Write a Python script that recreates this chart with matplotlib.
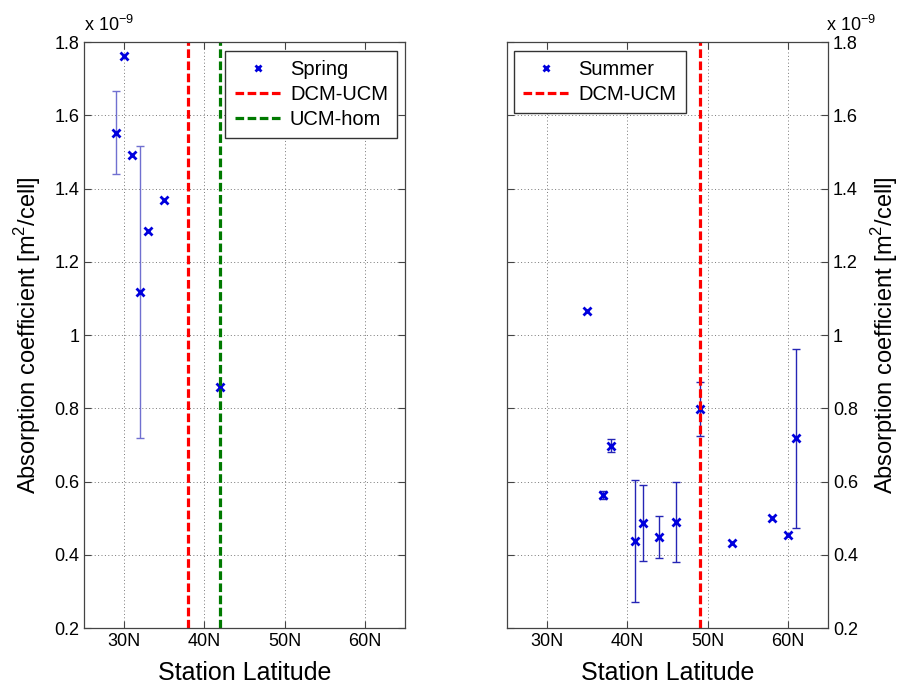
import numpy as np
import matplotlib
matplotlib.use("Agg")
import matplotlib.pyplot as plt

plt.rcParams['font.family'] = ['Liberation Sans', 'DejaVu Sans']

# absorption coefficient, units of 1e-9 m^2/cell
spring_lat = [29, 30, 31, 32, 33, 35, 42]
spring_abs = [1.552, 1.762, 1.491, 1.117, 1.284, 1.369, 0.859]
spring_err = [0.113, np.nan, np.nan, 0.398, np.nan, np.nan, np.nan]

summer_lat = [35, 37, 38, 41, 42, 44, 46, 49, 53, 58, 60, 61]
summer_abs = [1.066, 0.563, 0.698, 0.438, 0.487, 0.449, 0.490, 0.797, 0.433, 0.500, 0.453, 0.718]
summer_err = [np.nan, 0.010, 0.018, 0.167, 0.103, 0.058, 0.110, 0.074, np.nan, np.nan, np.nan, 0.245]

spring_dcm_ucm = 38
spring_ucm_hom = 42
summer_dcm_ucm = 49

xticks = [30, 40, 50, 60]
xticklabels = ['30N', '40N', '50N', '60N']
yticks = [0.2, 0.4, 0.6, 0.8, 1.0, 1.2, 1.4, 1.6, 1.8]
yticklabels = ['0.2', '0.4', '0.6', '0.8', '1', '1.2', '1.4', '1.6', '1.8']

fig = plt.figure(figsize=(9.06, 6.88), dpi=100)
ax1 = fig.add_axes([0.0927, 0.0872, 0.3543, 0.8517])
ax2 = fig.add_axes([0.5596, 0.0872, 0.3543, 0.8517])

dash = (2.7, 1.1)
ylab = r'Absorption coefficient [m$^{\mathregular{2}}$/cell]'
leg_kw = dict(borderaxespad=0, fontsize=14.5, fancybox=False, edgecolor='#333333',
              framealpha=1, handlelength=2.3, handletextpad=0.45,
              labelspacing=0.3, markerscale=0.75, borderpad=0.45)


def style(ax):
    ax.set_xlim(25, 65)
    ax.set_ylim(0.2, 1.8)
    ax.set_xticks(xticks)
    ax.set_xticklabels(xticklabels)
    ax.set_yticks(yticks)
    ax.set_yticklabels(yticklabels)
    ax.grid(True, linestyle=(0, (1, 2.5)), color='#777777', lw=0.7)
    ax.tick_params(direction='in', top=True, right=True, left=True,
                   labelsize=13, color='#444444', length=5, width=0.8)
    for s in ax.spines.values():
        s.set_color('#444444')
        s.set_linewidth(0.9)
    ax.set_xlabel('Station Latitude', fontsize=18, labelpad=8)


# spring
ax1.errorbar(spring_lat, spring_abs, yerr=spring_err, fmt='none',
             ecolor='#7070d0', elinewidth=1, capsize=3, capthick=1)
ax1.plot(spring_lat, spring_abs, 'x', color='#0000dd', ms=6, mew=2, label='Spring')
ax1.axvline(spring_dcm_ucm, color='#ff0000', lw=2.3, dashes=dash, label='DCM-UCM')
ax1.axvline(spring_ucm_hom, color='#007a00', lw=2.3, dashes=dash, label='UCM-hom')
style(ax1)
ax1.set_ylabel(ylab, fontsize=17, labelpad=8)
ax1.text(0, 1.012, r'x 10$^{\mathregular{-9}}$', transform=ax1.transAxes,
         fontsize=13, ha='left', va='bottom')
ax1.legend(loc='upper right', bbox_to_anchor=(0.975, 0.985), **leg_kw)

# summer
ax2.errorbar(summer_lat, summer_abs, yerr=summer_err, fmt='none',
             ecolor='#2525b5', elinewidth=1, capsize=3, capthick=1)
ax2.plot(summer_lat, summer_abs, 'x', color='#0000dd', ms=6, mew=2, label='Summer')
ax2.axvline(summer_dcm_ucm, color='#ff0000', lw=2.3, dashes=dash, label='DCM-UCM')
style(ax2)
ax2.yaxis.tick_right()
ax2.yaxis.set_label_position('right')
ax2.tick_params(axis='y', left=True, right=True, labelleft=False, labelright=True)
ax2.set_ylabel(ylab, fontsize=17, labelpad=8)
ax2.text(0.995, 1.012, r'x 10$^{\mathregular{-9}}$', transform=ax2.transAxes,
         fontsize=13, ha='left', va='bottom')
ax2.legend(loc='upper left', bbox_to_anchor=(0.022, 0.985), **leg_kw)

fig.savefig('out.png', dpi=100)
